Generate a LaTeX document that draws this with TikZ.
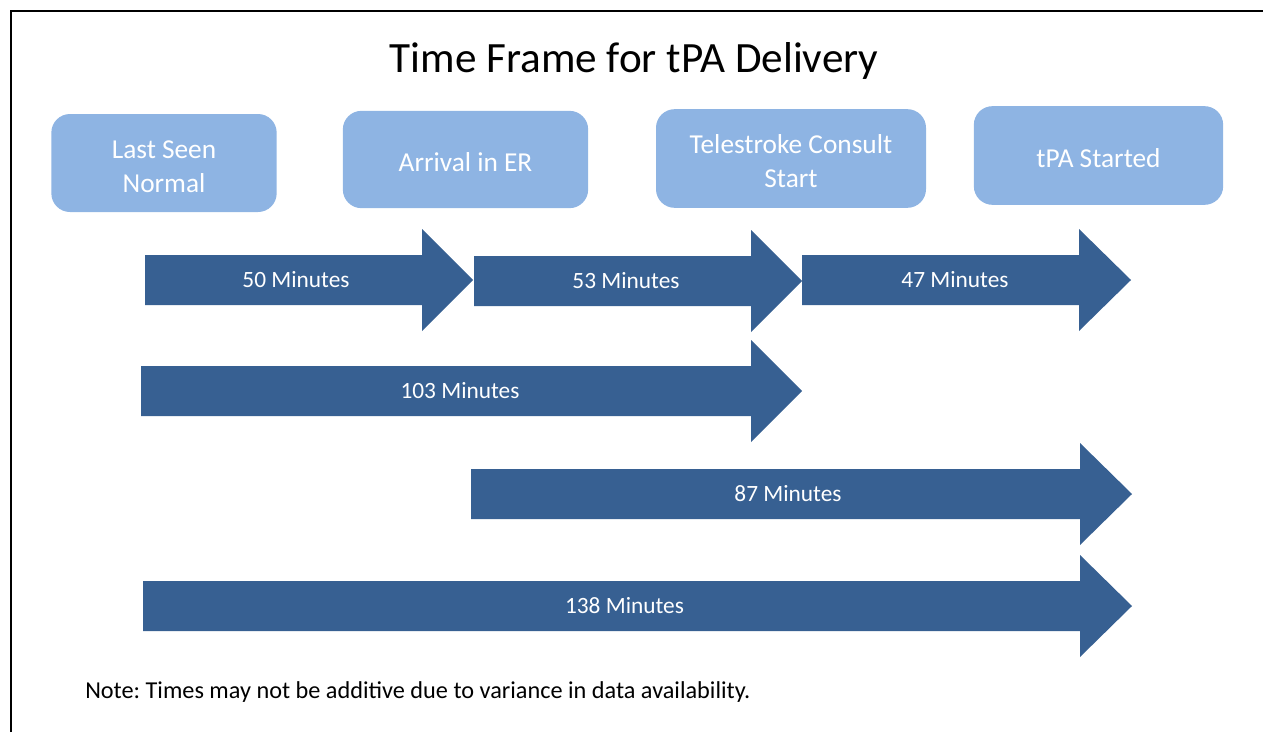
\documentclass[tikz,border=0pt]{standalone}
\usepackage{fontspec}
\setmainfont{Carlito}
\frenchspacing
\definecolor{stagefill}{HTML}{8EB4E3}
\definecolor{arrowfill}{HTML}{376092}
\tikzset{
  stagebox/.style={fill=stagefill, draw=none, rounded corners=14pt, inner sep=0pt},
  stagetext/.style={text=white, align=center, inner sep=0pt,
    font=\fontsize{20.5}{25.5}\selectfont},
  spanlabel/.style={text=white, inner sep=0pt, font=\fontsize{17.5}{20}\selectfont},
}
% block arrow: #1 name, #2 tail x, #3 head start x, #4 tip x, #5 centre y, #6 label, #7 label x
\newcommand\blockarrow[7]{%
  \fill[arrowfill] (#2,#5-25) -- (#3,#5-25) -- (#3,#5-51) -- (#4,#5)
    -- (#3,#5+51) -- (#3,#5+25) -- (#2,#5+25) -- cycle;
  \node[spanlabel] (#1) at (#7,#5) {#6};
}
\begin{document}
\begin{tikzpicture}[x=0.75pt, y=-0.75pt]
\useasboundingbox (0,0) rectangle (1263,732);
% frame
\draw[line width=1.5pt] (11,732) -- (11,11) -- (1263,11);
% title
\node[font=\fontsize{32.4}{38}\selectfont] (title) at (634,61) {Time Frame for tPA Delivery};
% stages
\node[stagebox, minimum width=169pt, minimum height=73.5pt] (lsn) at (164,163) {};
\node[stagebox, minimum width=184pt, minimum height=73pt] (er) at (465.5,159.5) {};
\node[stagebox, minimum width=202.5pt, minimum height=74pt] (tele) at (791,158.5) {};
\node[stagebox, minimum width=187pt, minimum height=74pt] (tpa) at (1098.5,155.5) {};
\node[stagetext] (lsn-t) at ([yshift=-2.6pt]lsn.center) {Last Seen\\Normal};
\node[stagetext] (er-t) at ([yshift=-2.2pt]er.center) {Arrival in ER};
\node[stagetext] (tele-t) at ([yshift=-2.2pt]tele.center) {Telestroke Consult\\Start};
\node[stagetext] (tpa-t) at ([yshift=-2.2pt]tpa.center) {tPA Started};
% intervals
\blockarrow{a50}{145}{422}{473}{280}{50 Minutes}{296}
\blockarrow{a53}{474}{751}{802}{281}{53 Minutes}{626}
\blockarrow{a47}{802}{1079}{1131}{280}{47 Minutes}{955}
\blockarrow{a103}{141}{751}{802}{391}{103 Minutes}{460}
\blockarrow{a87}{471}{1080}{1132}{494}{87 Minutes}{788}
\blockarrow{a138}{143}{1080}{1132}{606}{138 Minutes}{624.5}
% footnote
\node[anchor=west, inner sep=0pt, font=\fontsize{18.2}{21}\selectfont] (note) at (85,692)
  {Note: Times may not be additive due to variance in data availability.};
\end{tikzpicture}
\end{document}
